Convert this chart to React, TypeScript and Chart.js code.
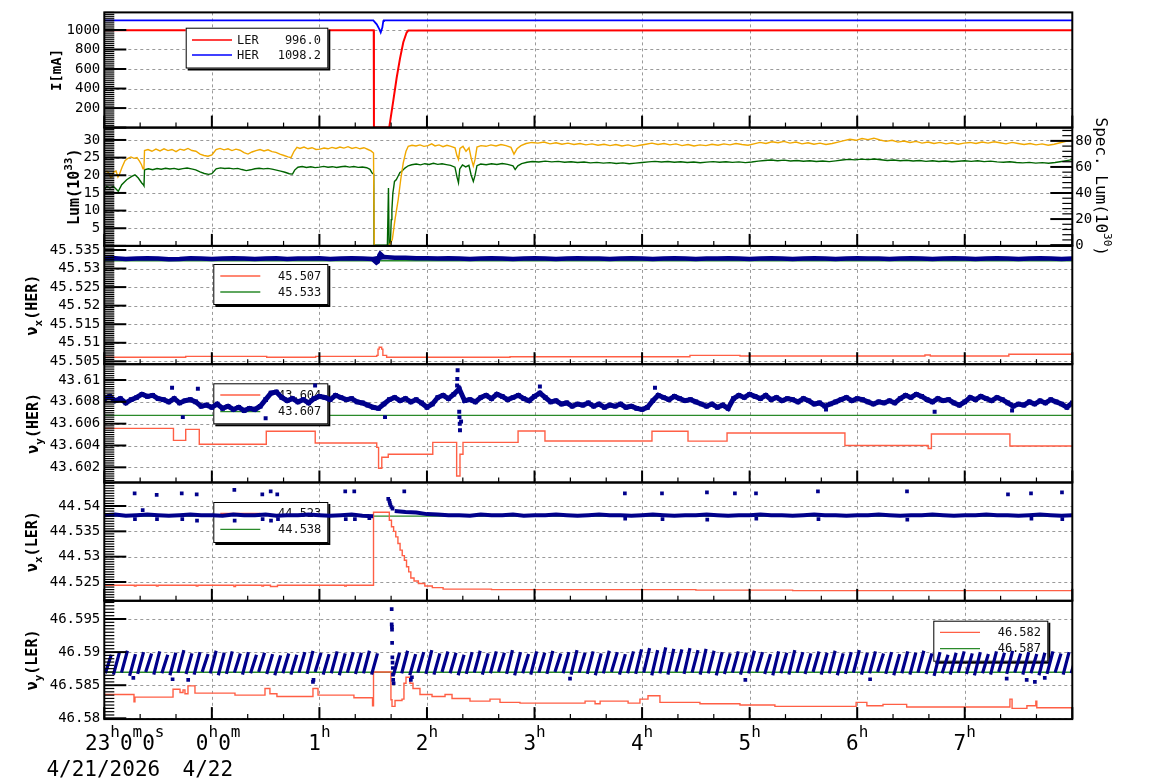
import React, { useEffect, useRef } from "react";
import { Chart, registerables } from "chart.js";

Chart.register(...registerables);

const W = 1154;
const H = 782;
const MONO = "'DejaVu Sans Mono', 'Liberation Mono', monospace";
const AREA_LEFT = 104.3;
const AREA_RIGHT = 1072.3;
const P_TOPS = [9.3, 127.6, 245.9, 364.2, 482.5, 600.8];
const PANEL_H = 118.3;

const RED = "#ff0000";
const BLUE = "#0000ff";
const ORANGE = "#f0a800";
const DKGREEN = "#006400";
const TOMATO = "#ff5f45";
const GREEN = "#2a8a2a";
const NAVY = "#00008b";

// ---------------- x axis (hours since 23:00, 4/21) ----------------
const X_MIN = 0;
const X_MAX = 9;
const X_LABELS = [
  [{ t: "23" }, { t: "h", k: "sup" }, { t: "0" }, { t: "m", k: "sup" }, { t: "0" }, { t: "s", k: "sup" }],
  [{ t: "0" }, { t: "h", k: "sup" }, { t: "0" }, { t: "m", k: "sup" }],
  [{ t: "1" }, { t: "h", k: "sup" }],
  [{ t: "2" }, { t: "h", k: "sup" }],
  [{ t: "3" }, { t: "h", k: "sup" }],
  [{ t: "4" }, { t: "h", k: "sup" }],
  [{ t: "5" }, { t: "h", k: "sup" }],
  [{ t: "6" }, { t: "h", k: "sup" }],
  [{ t: "7" }, { t: "h", k: "sup" }],
];
const DATE_LABELS = ["4/21/2026", "4/22"];

// ---------------- Panel 1: beam currents [mA] ----------------
const CUR_TICKS = [200, 400, 600, 800, 1000];
const CUR_LABELS = ["200", "400", "600", "800", "1000"];
const I_LER = [[0, 996], [2.505, 996], [2.507, 0], [2.646, 0], [2.65, 8], [2.687, 276], [2.718, 508], [2.749, 707], [2.78, 874], [2.811, 974], [2.826, 994], [9, 996]];
const I_HER = [[0, 1098], [2.501, 1098], [2.533, 1058], [2.557, 1009], [2.57, 974], [2.585, 1024], [2.594, 1091], [2.6, 1098], [9, 1098]];

// ---------------- Panel 2: luminosity ----------------
const LUM_TICKS = [5, 10, 15, 20, 25, 30];
const LUM_LABELS = ["5", "10", "15", "20", "25", "30"];
const SPEC_TICKS = [0, 20, 40, 60, 80];
const SPEC_LABELS = ["0", "20", "40", "60", "80"];
const LUM_T = [0, 0.025, 0.044, 0.058, 0.072, 0.086, 0.109, 0.127, 0.141, 0.165,
  0.192, 0.22, 0.248, 0.276, 0.304, 0.327, 0.346, 0.36, 0.369, 0.374,
  0.406, 0.443, 0.48, 0.518, 0.555, 0.592, 0.629, 0.667, 0.704, 0.741,
  0.778, 0.815, 0.852, 0.89, 0.927, 0.964, 1.001, 1.039, 1.076, 1.113,
  1.15, 1.187, 1.224, 1.262, 1.299, 1.336, 1.373, 1.41, 1.448, 1.485,
  1.522, 1.559, 1.596, 1.633, 1.671, 1.708, 1.736, 1.764, 1.791, 1.819,
  1.857, 1.894, 1.931, 1.968, 2.005, 2.043, 2.08, 2.117, 2.154, 2.191,
  2.228, 2.266, 2.303, 2.34, 2.377, 2.414, 2.452, 2.48, 2.503, 2.51,
  2.647, 2.678, 2.703, 2.733, 2.756, 2.78, 2.805, 2.826, 2.861, 2.898,
  2.935, 2.972, 3.01, 3.044, 3.075, 3.112, 3.149, 3.186, 3.223, 3.261,
  3.279, 3.293, 3.307, 3.335, 3.363, 3.391, 3.41, 3.431, 3.447, 3.465,
  3.502, 3.549, 3.595, 3.642, 3.688, 3.735, 3.781, 3.809, 3.837, 3.874,
  3.921, 3.976, 4.032, 4.088, 4.144, 4.2, 4.255, 4.311, 4.367, 4.423,
  4.478, 4.534, 4.59, 4.646, 4.702, 4.757, 4.813, 4.869, 4.925, 4.98,
  5.036, 5.092, 5.148, 5.204, 5.259, 5.315, 5.371, 5.427, 5.483, 5.538,
  5.594, 5.65, 5.706, 5.761, 5.817, 5.873, 5.929, 5.985, 6.04, 6.096,
  6.152, 6.208, 6.264, 6.319, 6.375, 6.431, 6.487, 6.543, 6.598, 6.654,
  6.71, 6.766, 6.822, 6.877, 6.933, 6.989, 7.045, 7.1, 7.156, 7.212,
  7.268, 7.324, 7.379, 7.435, 7.491, 7.547, 7.603, 7.659, 7.714, 7.77,
  7.826, 7.882, 7.938, 7.993, 8.049, 8.105, 8.161, 8.217, 8.273, 8.328,
  8.384, 8.44, 8.496, 8.552, 8.607, 8.663, 8.719, 8.775, 8.831, 8.886,
  8.942, 9.0];
const LUM_V = [20.9, 21.1, 20.6, 19.4, 19.6, 20.9, 21.2, 19.5, 20.3, 22.3,
  24.1, 24.8, 25.2, 24.8, 25.0, 24.0, 23.0, 21.8, 22.2, 27.0,
  27.3, 26.8, 27.4, 26.9, 27.5, 27.0, 27.3, 26.7, 27.4, 27.1,
  27.6, 27.0, 26.8, 26.0, 25.6, 25.4, 25.8, 27.3, 27.6, 27.2,
  27.5, 27.0, 27.4, 27.1, 26.4, 26.0, 26.6, 27.0, 27.3, 26.9,
  27.2, 26.7, 26.5, 26.0, 25.6, 25.2, 25.0, 26.8, 27.9, 27.6,
  28.0, 27.5, 27.8, 27.3, 27.4, 27.7, 27.5, 27.9, 27.6, 28.0,
  27.7, 28.1, 27.6, 27.9, 27.5, 27.8, 27.3, 26.9, 26.3, 0,
  0, 1.8, 7.5, 13.2, 18.8, 23.6, 26.8, 28.2, 28.5, 28.3,
  28.6, 28.2, 28.4, 28.9, 28.3, 28.6, 28.1, 28.5, 28.2, 27.8,
  25.5, 24.5, 27.6, 28.2, 26.8, 27.8, 25.0, 22.6, 24.5, 28.0,
  28.4, 28.2, 28.6, 28.3, 28.7, 28.4, 27.9, 26.0, 27.5, 28.4,
  29.0, 29.3, 29.1, 29.4, 28.9, 29.2, 28.8, 29.1, 28.7, 29.0,
  28.6, 28.9, 28.5, 28.8, 28.4, 28.7, 28.3, 28.6, 28.2, 28.5,
  28.8, 29.1, 28.7, 29.0, 28.6, 28.9, 28.4, 28.7, 28.3, 28.6,
  28.4, 28.8, 28.5, 28.9, 28.6, 29.0, 28.7, 28.5, 28.9, 29.3,
  29.0, 29.5, 29.2, 29.6, 29.1, 29.4, 28.9, 29.2, 28.8, 29.1,
  28.7, 29.0, 29.4, 29.8, 30.2, 29.9, 30.4, 30.1, 30.5, 30.0,
  29.6, 29.9, 29.4, 29.7, 29.3, 29.6, 29.1, 29.4, 29.0, 29.3,
  28.9, 29.2, 28.8, 29.1, 29.3, 29.0, 29.4, 29.1, 29.5, 29.2,
  28.9, 29.3, 29.0, 28.7, 29.0, 28.6, 28.9, 28.5, 28.8, 29.2,
  29.6, 29.9];
const SPEC = [
  [0, 42.6], [0.022, 45.1], [0.053, 43.9], [0.084, 45.1], [0.13, 41.3], [0.162, 46.4], [0.208, 50.2], [0.255, 52.7], [0.285, 54.0], [0.316, 51.5], [0.348, 47.7], [0.363, 46.4], [0.369, 45.5], [0.374, 57.8],
  [0.41, 58.6], [0.45, 57.9], [0.49, 58.8], [0.53, 58.2], [0.57, 59.0], [0.61, 58.4], [0.65, 58.9], [0.69, 58.1], [0.73, 58.7], [0.77, 59.2], [0.81, 58.5], [0.85, 57.8], [0.89, 56.2], [0.93, 55.0], [0.97, 54.3], [1.0, 54.8],
  [1.04, 58.6], [1.08, 59.3], [1.12, 58.8], [1.16, 59.1], [1.2, 58.5], [1.24, 58.9], [1.28, 58.0], [1.32, 57.2], [1.36, 57.8], [1.4, 58.6], [1.44, 59.0], [1.48, 58.5], [1.52, 58.9], [1.56, 58.3], [1.6, 57.6], [1.64, 56.8],
  [1.68, 55.9], [1.72, 54.8], [1.75, 54.5], [1.77, 57.6], [1.8, 59.8], [1.84, 60.3], [1.88, 59.6], [1.92, 60.1], [1.96, 59.5], [2.0, 59.9], [2.04, 60.4], [2.08, 59.8], [2.12, 60.2], [2.16, 59.6], [2.2, 60.1], [2.24, 60.5],
  [2.28, 59.9], [2.32, 60.3], [2.36, 59.7], [2.4, 60.0], [2.44, 59.4], [2.47, 58.2], [2.49, 55.3], [2.505, 54.5], [2.508, 0], [2.632, 0], [2.642, 43.9], [2.648, 1.0], [2.66, 1.8], [2.668, 19.6], [2.674, 27.3], [2.683, 40.0],
  [2.692, 45.1], [2.698, 48.9], [2.714, 50.2], [2.73, 52.7], [2.749, 55.8], [2.764, 56.5], [2.795, 59.1], [2.826, 60.9], [2.858, 61.7],
  [2.9, 62.3], [2.94, 61.6], [2.98, 62.5], [3.02, 61.9], [3.06, 62.8], [3.1, 62.0], [3.14, 62.4], [3.18, 61.8], [3.22, 61.2], [3.26, 59.8], [3.28, 52.0], [3.293, 47.9], [3.305, 58.5], [3.33, 61.5], [3.36, 60.0], [3.39, 61.2],
  [3.41, 54.0], [3.431, 48.9], [3.447, 53.5], [3.465, 61.0], [3.5, 62.2], [3.55, 61.7], [3.6, 62.4], [3.65, 61.9], [3.7, 62.6], [3.75, 62.0], [3.8, 60.8], [3.82, 58.0], [3.845, 60.9], [3.88, 62.5], [3.93, 63.6], [3.98, 64.2],
  [4.04, 63.8], [4.1, 64.5], [4.16, 63.9], [4.22, 64.3], [4.28, 63.6], [4.34, 64.0], [4.4, 63.4], [4.46, 63.8], [4.52, 63.1], [4.58, 63.5], [4.64, 62.9], [4.7, 63.3], [4.76, 62.7], [4.82, 63.1], [4.88, 62.5], [4.94, 62.9],
  [5.0, 63.4], [5.06, 63.9], [5.12, 64.3], [5.18, 63.8], [5.24, 64.2], [5.3, 63.6], [5.36, 64.0], [5.42, 63.4], [5.48, 63.8], [5.54, 63.2], [5.6, 63.7], [5.66, 64.1], [5.72, 63.6], [5.78, 64.0], [5.84, 63.5], [5.9, 63.9],
  [5.96, 63.3], [6.02, 63.8], [6.08, 64.5], [6.14, 64.9], [6.2, 65.3], [6.26, 64.8], [6.32, 65.2], [6.38, 64.6], [6.44, 65.0], [6.5, 64.4], [6.56, 64.8], [6.62, 64.2], [6.68, 64.6], [6.74, 64.1], [6.8, 64.7], [6.86, 65.3],
  [6.92, 65.8], [6.98, 65.4], [7.04, 66.0], [7.1, 65.6], [7.16, 66.1], [7.22, 65.5], [7.28, 65.0], [7.34, 65.3], [7.4, 64.8], [7.46, 65.1], [7.52, 64.6], [7.58, 64.9], [7.64, 64.3], [7.7, 64.7], [7.76, 64.2], [7.82, 64.6],
  [7.88, 64.0], [7.94, 64.4], [8.0, 64.8], [8.06, 64.3], [8.12, 64.7], [8.18, 64.1], [8.24, 64.5], [8.3, 63.9], [8.36, 63.6], [8.42, 64.0], [8.48, 63.4], [8.54, 63.1], [8.6, 63.5], [8.66, 62.9], [8.72, 63.3], [8.78, 62.8],
  [8.84, 63.4], [8.9, 64.2], [8.96, 65.0], [9.0, 65.6]];

// ---------------- Panel 3: nu_x (HER) ----------------
const NXH_TICKS = [45.505, 45.51, 45.515, 45.52, 45.525, 45.53, 45.535];
const NXH_LABELS = ["45.505", "45.51", "45.515", "45.52", "45.525", "45.53", "45.535"];
const NXH_DT = 0.1;
const NXH_MEAS = [45.5327, 45.5328, 45.5326, 45.5327, 45.5328, 45.5327, 45.5325, 45.5326, 45.5328, 45.5327,
  45.5326, 45.5327, 45.5328, 45.5327, 45.5326, 45.5327, 45.5328, 45.5326, 45.5327, 45.5327,
  45.5328, 45.5326, 45.5327, 45.5328, 45.5327, 45.5326, 45.5331,
  45.5329, 45.5329, 45.5328, 45.5328, 45.5327, 45.5328, 45.5327, 45.5326, 45.5327, 45.5328,
  45.5327, 45.5326, 45.5327, 45.5328, 45.5327, 45.5326, 45.5327, 45.5328, 45.5327, 45.5327,
  45.5326, 45.5327, 45.5328, 45.5327, 45.5326, 45.5327, 45.5328, 45.5327, 45.5326, 45.5327,
  45.5327, 45.5328, 45.5327, 45.5326, 45.5327, 45.5328, 45.5327, 45.5326, 45.5327, 45.5328,
  45.5327, 45.5326, 45.5327, 45.5328, 45.5327, 45.5327, 45.5326, 45.5327, 45.5328, 45.5327,
  45.5326, 45.5327, 45.5328, 45.5327, 45.5326, 45.5327, 45.5328, 45.5327, 45.5326, 45.5327,
  45.5328, 45.5327, 45.5326, 45.5327];
const NXH_EXCURSION = [[2.49, 45.5326], [2.51, 45.532], [2.53, 45.5315], [2.545, 45.5318], [2.555, 45.5336], [2.565, 45.5341], [2.58, 45.5337], [2.6, 45.5331]];
const NXH_SET = [[0, 45.5061], [0.757, 45.50635], [1.51, 45.5061], [1.965, 45.50635], [2.533, 45.5066], [2.545, 45.5083], [2.556, 45.5088], [2.579, 45.5083], [2.59, 45.5066], [2.625, 45.5061], [3.772, 45.50625], [5.445, 45.5066], [5.91, 45.50645], [7.63, 45.5067], [7.68, 45.50645], [8.41, 45.5069], [9, 45.5069]];
const NXH_REF = [[0, 45.5321], [9, 45.5321]];

// ---------------- Panel 4: nu_y (HER) ----------------
const NYH_TICKS = [43.602, 43.604, 43.606, 43.608, 43.61];
const NYH_LABELS = ["43.602", "43.604", "43.606", "43.608", "43.61"];
const NYH_DT = 0.05;
const NYH_MEAS = [43.6083, 43.6085, 43.6081, 43.6083, 43.6079, 43.6082, 43.6084, 43.6087, 43.6085, 43.6086,
  43.6083, 43.6082, 43.608, 43.6083, 43.6079, 43.6081, 43.6082, 43.608, 43.6076, 43.6077,
  43.6075, 43.6078, 43.6074, 43.6076, 43.6073, 43.6075, 43.6072, 43.6074, 43.6073, 43.6076,
  43.6082, 43.6088, 43.6089, 43.6084, 43.6081, 43.6083, 43.608, 43.6082, 43.6079, 43.6083,
  43.6085, 43.6084, 43.6082, 43.6086, 43.6084, 43.6082, 43.6083, 43.608, 43.6079, 43.6077,
  43.6075, 43.6074, 43.6078, 43.6082, 43.6084, 43.6081, 43.6083, 43.608, 43.6082, 43.6079,
  43.6075, 43.6078, 43.6084, 43.6086, 43.6083, 43.6087, 43.6092, 43.6081, 43.6082, 43.608,
  43.6084, 43.6086, 43.6083, 43.6087, 43.6085, 43.6082, 43.6084, 43.6086, 43.6083, 43.6081,
  43.6085, 43.6088, 43.6084, 43.608, 43.6081, 43.6078, 43.6079, 43.6076, 43.6078, 43.6077,
  43.6079, 43.6076, 43.6078, 43.6075, 43.6077, 43.6076, 43.6078, 43.6075, 43.6076, 43.6074,
  43.6073, 43.6075, 43.6081, 43.6086, 43.6084, 43.6082, 43.6085, 43.6083, 43.6081, 43.6082,
  43.608, 43.6078, 43.6076, 43.6078, 43.6075, 43.6077, 43.6074, 43.6083, 43.6086, 43.6084,
  43.6087, 43.6085, 43.6083, 43.6086, 43.6082, 43.6084, 43.6081, 43.6083, 43.6082, 43.608,
  43.6083, 43.6081, 43.6078, 43.6079, 43.6076, 43.6078, 43.608, 43.6082, 43.6084, 43.6081,
  43.6083, 43.6082, 43.608, 43.6078, 43.608, 43.6079, 43.6081, 43.6079, 43.6083, 43.6086,
  43.6084, 43.6087, 43.6085, 43.6082, 43.608, 43.6083, 43.6081, 43.6082, 43.6079, 43.6077,
  43.608, 43.6084, 43.6082, 43.6085, 43.6083, 43.6081, 43.6084, 43.6082, 43.6079, 43.6076,
  43.6078, 43.6077, 43.608, 43.6078, 43.6081, 43.6079, 43.6082, 43.608, 43.6078, 43.6075, 43.6079];
const NYH_OUTLIERS = [[0.63, 43.6093], [0.73, 43.6066], [0.87, 43.6092], [1.5, 43.6065], [1.96, 43.6095], [2.61, 43.6066],
  [3.28, 43.6095], [3.282, 43.6101], [3.285, 43.6109], [3.3, 43.6071], [3.302, 43.6066], [3.305, 43.606], [3.307, 43.6054], [3.317, 43.6062],
  [4.05, 43.6094], [5.12, 43.6093], [6.71, 43.6073], [7.72, 43.6071], [8.44, 43.6072]];
const NYH_SET = [[0, 43.60557], [0.643, 43.60447], [0.757, 43.60548], [0.883, 43.60411], [1.506, 43.6053], [1.961, 43.60423], [2.533, 43.60383], [2.55, 43.60191], [2.58, 43.60292], [2.64, 43.6032], [3.054, 43.60429], [3.276, 43.6012], [3.307, 43.6032], [3.335, 43.60429], [3.847, 43.60533], [4.097, 43.60441], [5.092, 43.6053], [5.427, 43.6044], [5.79, 43.60514], [6.886, 43.604], [7.66, 43.60372], [7.69, 43.60505], [8.42, 43.60395], [9, 43.60395]];
const NYH_REF = [[0, 43.60676], [9, 43.60676]];

// ---------------- Panel 5: nu_x (LER) ----------------
const NXL_TICKS = [44.525, 44.53, 44.535, 44.54];
const NXL_LABELS = ["44.525", "44.53", "44.535", "44.54"];
const NXL_DT = 0.1;
const NXL_MEAS = [44.5382, 44.5383, 44.5381, 44.5382, 44.5383, 44.5382, 44.5381, 44.5382, 44.5383, 44.5382,
  44.5382, 44.5381, 44.5383, 44.5382, 44.5382, 44.5383, 44.5381, 44.5382, 44.5382, 44.5383,
  44.5382, 44.5381, 44.5382, 44.5383, 44.5381, 44.538, null, 44.539, 44.5388, 44.5387, 44.5384,
  44.5383, 44.5382, 44.5382, 44.5381, 44.5383, 44.5382, 44.5382, 44.5383, 44.5381, 44.5382,
  44.5382, 44.5383, 44.5382, 44.5381, 44.5382, 44.5383, 44.5382, 44.5382, 44.5381, 44.5382,
  44.5383, 44.5382, 44.5381, 44.5382, 44.5382, 44.5383, 44.5382, 44.5381, 44.5382, 44.5382,
  44.5383, 44.5382, 44.5382, 44.5381, 44.5382, 44.5383, 44.5382, 44.5382, 44.5381, 44.5382,
  44.5382, 44.5383, 44.5382, 44.5381, 44.5382, 44.5382, 44.5383, 44.5382, 44.5381, 44.5382,
  44.5382, 44.5383, 44.5382, 44.5382, 44.5381, 44.5382, 44.5383, 44.5382, 44.5381, 44.5382];
const NXL_OUTLIERS = [[0.282, 44.5425], [0.487, 44.5422], [0.72, 44.5425], [0.859, 44.5423], [1.209, 44.5432], [1.469, 44.5423], [1.547, 44.5429], [1.608, 44.5423], [2.24, 44.5429], [2.324, 44.5429], [2.789, 44.5429],
  [4.84, 44.5425], [5.185, 44.5425], [5.603, 44.5427], [5.863, 44.5425], [6.059, 44.5425], [6.635, 44.5429], [7.463, 44.5429], [8.402, 44.5423], [8.616, 44.5425], [8.904, 44.5427],
  [0.285, 44.5374], [0.49, 44.5374], [0.725, 44.5374], [0.862, 44.5371], [1.212, 44.5371], [1.472, 44.5374], [1.55, 44.5371], [1.615, 44.5374], [2.245, 44.5374], [2.33, 44.5374], [2.464, 44.5376],
  [4.843, 44.5375], [5.19, 44.5374], [5.606, 44.5373], [6.062, 44.5375], [6.64, 44.5374], [7.466, 44.5373], [8.62, 44.5375], [8.907, 44.5374],
  [0.357, 44.5392], [2.64, 44.5414], [2.65, 44.541], [2.655, 44.5406], [2.66, 44.5402], [2.67, 44.5398], [2.68, 44.5395]];
const NXL_SET = [[0, 44.52435], [0.28, 44.5242], [0.295, 44.52435], [0.485, 44.5242], [0.5, 44.52435], [0.855, 44.5242], [0.87, 44.52435], [1.205, 44.5241], [1.22, 44.52435], [1.465, 44.5242], [1.48, 44.52435], [1.545, 44.5241], [1.61, 44.52435], [2.235, 44.5242], [2.25, 44.52435],
  [2.503, 44.53876], [2.65, 44.5372], [2.67, 44.5359], [2.69, 44.535], [2.71, 44.5339], [2.73, 44.5326], [2.75, 44.5313], [2.77, 44.5302], [2.79, 44.5293], [2.81, 44.528], [2.83, 44.527], [2.85, 44.5258], [2.88, 44.5252], [2.92, 44.5247], [2.98, 44.5242], [3.05, 44.5239], [3.15, 44.5236], [3.6, 44.5235], [5.5, 44.5234], [6.4, 44.5233], [9, 44.5233]];
const NXL_REF = [[0, 44.538], [9, 44.538]];

// ---------------- Panel 6: nu_y (LER) ----------------
const NYL_TICKS = [46.58, 46.585, 46.59, 46.595];
const NYL_LABELS = ["46.58", "46.585", "46.59", "46.595"];
const NYL_TOOTH_DT = 0.075;
const NYL_TOOTH_W = 0.055;
const NYL_A_START = 0.01;
const NYL_A_LOW = [46.5868, 46.5866, 46.5869, 46.5864, 46.5867, 46.587, 46.5866, 46.5868, 46.5865, 46.5869,
  46.5867, 46.5866, 46.587, 46.5868, 46.5865, 46.5867, 46.5869, 46.5866, 46.5868, 46.587,
  46.5867, 46.5865, 46.5868, 46.5866, 46.5869, 46.5867, 46.587, 46.5866, 46.5868, 46.5865,
  46.5869, 46.5867, 46.5868, 46.5866];
const NYL_A_HIGH = [46.5896, 46.5899, 46.5902, 46.5897, 46.59, 46.5898, 46.5901, 46.5896, 46.5899, 46.5903,
  46.5898, 46.59, 46.5897, 46.5902, 46.5899, 46.5901, 46.5898, 46.59, 46.5896, 46.5899,
  46.5897, 46.5895, 46.5898, 46.5896, 46.59, 46.5902, 46.5899, 46.5897, 46.5901, 46.5898,
  46.59, 46.5899, 46.5902, 46.5898];
const NYL_B_START = 2.69;
const NYL_B_LOW = [46.5866, 46.5868, 46.5865, 46.5869, 46.5867, 46.5866, 46.587, 46.5868, 46.5865, 46.5867,
  46.5869, 46.5866, 46.5868, 46.587, 46.5867, 46.5865, 46.5868, 46.5866, 46.5869, 46.5867,
  46.587, 46.5868, 46.5866, 46.5869, 46.5867, 46.5865, 46.5868, 46.587, 46.5866, 46.5868,
  46.5867, 46.5869, 46.5865, 46.5868, 46.5866, 46.587, 46.5867, 46.5869, 46.5866, 46.5868,
  46.5865, 46.5867, 46.5869, 46.5866, 46.5868, 46.587, 46.5867, 46.5865, 46.5868, 46.5866,
  46.5869, 46.5867, 46.587, 46.5866, 46.5868, 46.5865, 46.5867, 46.5869, 46.5866, 46.5868,
  46.587, 46.5867, 46.5865, 46.5868, 46.5866, 46.5869, 46.5867, 46.5864, 46.5868, 46.5866,
  46.5869, 46.5867, 46.5865, 46.5868, 46.5866, 46.587, 46.5867, 46.5869, 46.5866, 46.5868,
  46.5865, 46.5867, 46.5869, 46.5866, 46.5868];
const NYL_B_HIGH = [46.5899, 46.5902, 46.5897, 46.59, 46.5903, 46.5898, 46.5901, 46.5899, 46.5896, 46.59,
  46.5902, 46.5898, 46.5901, 46.5899, 46.5903, 46.59, 46.5897, 46.5901, 46.5899, 46.5902,
  46.5898, 46.59, 46.5903, 46.5899, 46.5901, 46.5898, 46.5902, 46.59, 46.5897, 46.5901,
  46.5904, 46.5906, 46.5903, 46.5907, 46.5905, 46.5904, 46.5906, 46.5903, 46.5905, 46.5902,
  46.59, 46.5898, 46.5901, 46.5899, 46.5902, 46.59, 46.5897, 46.5901, 46.5899, 46.5903,
  46.59, 46.5898, 46.5901, 46.5899, 46.5902, 46.5898, 46.59, 46.5903, 46.5899, 46.5901,
  46.5898, 46.59, 46.5897, 46.5901, 46.5899, 46.5902, 46.5898, 46.59, 46.5896, 46.5899,
  46.5901, 46.5898, 46.59, 46.5897, 46.5901, 46.5899, 46.5902, 46.5898, 46.59, 46.5897,
  46.5899, 46.5901, 46.5898, 46.59, 46.5899];
const NYL_OUTLIERS = [[0.27, 46.5861], [0.635, 46.5859], [0.78, 46.5858], [1.94, 46.5855], [1.945, 46.5858],
  [2.672, 46.5965], [2.672, 46.5942], [2.674, 46.5938], [2.675, 46.5934], [2.676, 46.5914], [2.678, 46.5892], [2.68, 46.5884], [2.682, 46.5876], [2.684, 46.5866], [2.686, 46.5858], [2.69, 46.5853],
  [2.85, 46.5858], [2.86, 46.5862], [4.33, 46.586], [5.96, 46.5858], [7.12, 46.5859], [8.39, 46.586], [8.576, 46.5858], [8.652, 46.5855], [8.744, 46.5861]];
const NYL_SET = [[0, 46.5836], [0.276, 46.5825], [0.285, 46.5832], [0.639, 46.5844], [0.704, 46.5839], [0.732, 46.5843], [0.75, 46.5837], [0.778, 46.5849], [0.843, 46.5838], [1.215, 46.5835], [1.494, 46.5845], [1.54, 46.5837], [1.605, 46.5833], [1.94, 46.5845], [1.987, 46.5835], [2.321, 46.5831], [2.494, 46.5819], [2.503, 46.587],
  [2.665, 46.5828], [2.675, 46.5818], [2.703, 46.5827], [2.768, 46.5829], [2.786, 46.5853], [2.805, 46.5862], [2.842, 46.5853], [2.87, 46.5845], [2.935, 46.5836], [3.047, 46.5833], [3.168, 46.5836], [3.233, 46.583], [3.4, 46.5826], [3.586, 46.5829], [3.679, 46.5824], [3.865, 46.5823],
  [4.47, 46.5826], [4.563, 46.5822], [4.61, 46.5826], [4.87, 46.5823], [4.98, 46.5829], [5.055, 46.5834], [5.166, 46.5824], [5.538, 46.5822], [5.91, 46.582], [6.235, 46.5818], [6.99, 46.5824], [7.09, 46.5819], [7.24, 46.5821], [7.46, 46.5817], [8.42, 46.5829], [8.44, 46.5815], [8.578, 46.5819], [8.661, 46.5826], [8.67, 46.5816], [9, 46.5816]];
const NYL_REF = [[0, 46.58695], [9, 46.58695]];

// ---------------- helpers ----------------
const fromPairs = (pairs: number[][]) => pairs.map(([x, y]) => ({ x, y }));
const zip = (ts: number[], vs: number[]) => ts.slice(0, Math.min(ts.length, vs.length)).map((t, i) => ({ x: t, y: vs[i] }));
const onGrid = (t0: number, dt: number, vals: (number | null)[]) => vals.map((v, i) => ({ x: t0 + i * dt, y: v }));
function teeth(t0: number, dt: number, w: number, lows: number[], highs: number[]) {
  const out: any[] = [];
  const n = Math.min(lows.length, highs.length);
  for (let i = 0; i < n; i++) {
    const t = t0 + i * dt;
    out.push({ x: t, y: lows[i] }, { x: t + w, y: highs[i] }, { x: t + w, y: null });
  }
  return out;
}

const lineDs = (data: any[], color: string, width: number, extra: any = {}) => ({
  data, borderColor: color, backgroundColor: color, borderWidth: width, pointRadius: 0, fill: false, tension: 0, spanGaps: false, ...extra,
});
const pointDs = (data: any[], color: string, r: number) => ({
  data, showLine: false, borderColor: color, backgroundColor: color, pointRadius: r, pointStyle: "rect",
  pointBackgroundColor: color, pointBorderColor: color, pointBorderWidth: 0,
});

type Seg = { t: string; k?: "sup" | "sub" };

function drawRich(ctx: CanvasRenderingContext2D, segs: Seg[], x: number, y: number, rot: number, size: number, weight: string, o: any) {
  ctx.save();
  ctx.translate(x, y);
  ctx.rotate(rot);
  ctx.textAlign = "left";
  ctx.textBaseline = "alphabetic";
  ctx.fillStyle = "#000";
  const fontOf = (s: Seg) => `${weight} ${s.k ? Math.round(size * o.small) : size}px ${MONO}`;
  const widths = segs.map((s) => { ctx.font = fontOf(s); return ctx.measureText(s.t).width; });
  const total = widths.reduce((a, b) => a + b, 0);
  let cx = o.center ? -total / 2 : 0;
  const base = o.center ? size * 0.36 : 0;
  segs.forEach((s, i) => {
    ctx.font = fontOf(s);
    const dy = s.k === "sup" ? -size * o.raise : s.k === "sub" ? size * o.drop : 0;
    ctx.fillText(s.t, cx, base + dy);
    cx += widths[i];
  });
  ctx.restore();
  return total;
}

function richWidth(ctx: CanvasRenderingContext2D, segs: Seg[], size: number, small: number) {
  let w = 0;
  segs.forEach((s) => { ctx.font = `${s.k ? Math.round(size * small) : size}px ${MONO}`; w += ctx.measureText(s.t).width; });
  return w;
}

function drawLegend(ctx: CanvasRenderingContext2D, L: any) {
  const [x0, y0, x1, y1] = L.box;
  ctx.save();
  ctx.setLineDash([]);
  ctx.fillStyle = "#000";
  ctx.fillRect(x0 + 2, y0 + 2, x1 - x0, y1 - y0);
  ctx.fillStyle = "#fff";
  ctx.fillRect(x0, y0, x1 - x0, y1 - y0);
  ctx.strokeStyle = "#000";
  ctx.lineWidth = 1;
  ctx.strokeRect(x0 + 0.5, y0 + 0.5, x1 - x0 - 1, y1 - y0 - 1);
  ctx.font = `12px ${MONO}`;
  ctx.textBaseline = "middle";
  L.items.forEach((it: any) => {
    ctx.strokeStyle = it.color;
    ctx.lineWidth = 1.3;
    ctx.beginPath();
    ctx.moveTo(L.line[0], it.y);
    ctx.lineTo(L.line[1], it.y);
    ctx.stroke();
    ctx.fillStyle = "#111";
    if (it.label) { ctx.textAlign = "left"; ctx.fillText(it.label, L.labelX, it.y + 0.5); }
    ctx.textAlign = "right";
    ctx.fillText(it.value, L.valueX, it.y + 0.5);
  });
  ctx.restore();
}

function drawAxisTicks(ctx: CanvasRenderingContext2D, scale: any, a: any, ax: any, side: "left" | "right") {
  const n0 = Math.ceil(ax.min / ax.minor - 1e-6);
  const n1 = Math.floor(ax.max / ax.minor + 1e-6);
  for (let k = n0; k <= n1; k++) {
    const v = k * ax.minor;
    const r = v / ax.step;
    const major = Math.abs(r - Math.round(r)) < 0.02;
    const py = scale.getPixelForValue(v);
    if (py < a.top - 0.5 || py > a.bottom + 0.5) continue;
    const len = major ? 22 : 10;
    ctx.lineWidth = major ? 2 : 1.2;
    ctx.beginPath();
    if (side === "left") { ctx.moveTo(a.left, py); ctx.lineTo(a.left + len, py); }
    else { ctx.moveTo(a.right, py); ctx.lineTo(a.right - len, py); }
    ctx.stroke();
  }
}

function makePlugin(cfg: any) {
  return {
    id: "panel_" + cfg.key,
    beforeDatasetsDraw(chart: any) {
      const { ctx, chartArea: a, scales } = chart;
      ctx.save();
      ctx.strokeStyle = "#9a9a9a";
      ctx.lineWidth = 1;
      ctx.setLineDash([3, 3]);
      ctx.beginPath();
      for (let h = 1; h < 9; h++) {
        const px = Math.round(scales.x.getPixelForValue(h)) + 0.5;
        ctx.moveTo(px, a.top); ctx.lineTo(px, a.bottom);
      }
      cfg.y.ticks.forEach((v: number) => {
        const py = Math.round(scales.y.getPixelForValue(v)) + 0.5;
        ctx.moveTo(a.left, py); ctx.lineTo(a.right, py);
      });
      ctx.stroke();
      ctx.restore();
    },
    beforeDatasetDraw(chart: any, args: any) {
      if (cfg.legendBefore != null && args.index === cfg.legendBefore) drawLegend(chart.ctx, cfg.legend);
    },
    afterDatasetsDraw(chart: any) {
      const { ctx, chartArea: a, scales } = chart;
      if (cfg.legendBefore == null) drawLegend(ctx, cfg.legend);
      ctx.save();
      ctx.setLineDash([]);
      ctx.strokeStyle = "#000";
      drawAxisTicks(ctx, scales.y, a, cfg.y, "left");
      if (cfg.y2) drawAxisTicks(ctx, scales.y2, a, cfg.y2, "right");
      for (let k = 0; k <= 27; k++) {
        const major = k % 3 === 0;
        const px = scales.x.getPixelForValue(k / 3);
        ctx.lineWidth = major ? 2 : 1.2;
        ctx.beginPath();
        ctx.moveTo(px, a.bottom);
        ctx.lineTo(px, a.bottom - (major ? 12 : 5));
        ctx.stroke();
      }
      ctx.lineWidth = 2;
      ctx.strokeRect(a.left, a.top, a.right - a.left, a.bottom - a.top);
      ctx.restore();
    },
    afterDraw(chart: any) {
      const { ctx, chartArea: a, scales } = chart;
      const cy = (a.top + a.bottom) / 2;
      const tt = cfg.title;
      drawRich(ctx, tt.segs, tt.x, cy, -Math.PI / 2, tt.size, "bold", { center: true, small: 0.7, raise: 0.5, drop: 0.3 });
      if (cfg.y2) {
        const t2 = cfg.y2.title;
        drawRich(ctx, t2.segs, t2.x, cy, Math.PI / 2, t2.size, "normal", { center: true, small: 0.7, raise: 0.5, drop: 0.3 });
      }
      if (cfg.xLabels) {
        X_LABELS.forEach((segs: any, i: number) => {
          const px = scales.x.getPixelForValue(i);
          const w = richWidth(ctx, segs, 21, 0.76);
          const start = i === 0 ? px - 19.3 : i === 1 ? px - 16 : px - w / 2;
          drawRich(ctx, segs, start, 750, 0, 21, "normal", { center: false, small: 0.76, raise: 0.6, drop: 0.3 });
        });
        ctx.save();
        ctx.fillStyle = "#000";
        ctx.font = `21px ${MONO}`;
        ctx.textAlign = "center";
        ctx.textBaseline = "alphabetic";
        ctx.fillText(DATE_LABELS[0], scales.x.getPixelForValue(0) - 1, 776);
        ctx.fillText(DATE_LABELS[1], scales.x.getPixelForValue(1) - 4, 776);
        ctx.restore();
      }
    },
  };
}

const redLegend = (x0: number, y0: number, vals: string[], ys: number[]) => ({
  box: [x0, y0, x0 + 115, y0 + 41], line: [x0 + 7, x0 + 47], labelX: 0, valueX: x0 + 108,
  items: [{ color: TOMATO, value: vals[0], y: ys[0] }, { color: GREEN, value: vals[1], y: ys[1] }],
});

const PANELS: any[] = [
  {
    key: "cur", top: P_TOPS[0],
    y: { min: 0, max: 1180, ticks: CUR_TICKS, labels: CUR_LABELS, minor: 20, step: 200 },
    title: { segs: [{ t: "I[mA]" }], x: 56, size: 14 },
    datasets: [lineDs(fromPairs(I_LER), RED, 2), lineDs(fromPairs(I_HER), BLUE, 1.8)],
    legendBefore: null,
    legend: {
      box: [185.7, 27.7, 328.3, 68.5], line: [192, 232], labelX: 237, valueX: 321,
      items: [{ color: RED, label: "LER", value: "996.0", y: 40 }, { color: BLUE, label: "HER", value: "1098.2", y: 55 }],
    },
  },
  {
    key: "lum", top: P_TOPS[1],
    y: { min: 0, max: 33.5, ticks: LUM_TICKS, labels: LUM_LABELS, minor: 0.5, step: 5 },
    y2: { min: -0.6, max: 90.2, ticks: SPEC_TICKS, labels: SPEC_LABELS, minor: 4, step: 20,
      title: { segs: [{ t: "Spec. Lum(10" }, { t: "30", k: "sup" }, { t: ")" }], x: 1102, size: 16 } },
    title: { segs: [{ t: "Lum(10" }, { t: "33", k: "sup" }, { t: ")" }], x: 74, size: 15 },
    datasets: [lineDs(zip(LUM_T, LUM_V), ORANGE, 1.4, { yAxisID: "y" }), lineDs(fromPairs(SPEC), DKGREEN, 1.4, { yAxisID: "y2" })],
    legendBefore: -1,
    legend: null,
  },
  {
    key: "nxh", top: P_TOPS[2],
    y: { min: 45.50423, max: 45.5361, ticks: NXH_TICKS, labels: NXH_LABELS, minor: 0.0005, step: 0.005 },
    title: { segs: [{ t: "ν" }, { t: "x", k: "sub" }, { t: "(HER)" }], x: 32, size: 15 },
    datasets: [
      lineDs(onGrid(0, NXH_DT, NXH_MEAS), NAVY, 4.5),
      lineDs(fromPairs(NXH_EXCURSION), NAVY, 4),
      lineDs(fromPairs(NXH_SET), TOMATO, 1.4, { stepped: true }),
      lineDs(fromPairs(NXH_REF), GREEN, 1.4),
    ],
    legendBefore: 1,
    legend: redLegend(213.3, 264, ["45.507", "45.533"], [276, 292]),
  },
  {
    key: "nyh", top: P_TOPS[3],
    y: { min: 43.60061, max: 43.61145, ticks: NYH_TICKS, labels: NYH_LABELS, minor: 0.0002, step: 0.002 },
    title: { segs: [{ t: "ν" }, { t: "y", k: "sub" }, { t: "(HER)" }], x: 33, size: 15 },
    datasets: [
      lineDs(onGrid(0, NYH_DT, NYH_MEAS), NAVY, 5, { pointRadius: 3.3, pointStyle: "rect", pointBackgroundColor: NAVY, pointBorderColor: NAVY, pointBorderWidth: 0 }),
      pointDs(fromPairs(NYH_OUTLIERS), NAVY, 2.8),
      lineDs(fromPairs(NYH_SET), TOMATO, 1.4, { stepped: true }),
      lineDs(fromPairs(NYH_REF), GREEN, 1.4),
    ],
    legendBefore: 1,
    legend: redLegend(213.3, 383.3, ["43.604", "43.607"], [395, 411.7]),
  },
  {
    key: "nxl", top: P_TOPS[4],
    y: { min: 44.52129, max: 44.54464, ticks: NXL_TICKS, labels: NXL_LABELS, minor: 0.0005, step: 0.005 },
    title: { segs: [{ t: "ν" }, { t: "x", k: "sub" }, { t: "(LER)" }], x: 32, size: 15 },
    datasets: [
      lineDs(onGrid(0, NXL_DT, NXL_MEAS), NAVY, 4),
      pointDs(fromPairs(NXL_OUTLIERS), NAVY, 2.6),
      lineDs(fromPairs(NXL_SET), TOMATO, 1.4, { stepped: true }),
      lineDs(fromPairs(NXL_REF), GREEN, 1.4),
    ],
    legendBefore: 1,
    legend: redLegend(213.3, 502, ["44.523", "44.538"], [513.3, 529.3]),
  },
  {
    key: "nyl", top: P_TOPS[5],
    y: { min: 46.57988, max: 46.59775, ticks: NYL_TICKS, labels: NYL_LABELS, minor: 0.0005, step: 0.005 },
    title: { segs: [{ t: "ν" }, { t: "y", k: "sub" }, { t: "(LER)" }], x: 32, size: 15 },
    datasets: [
      lineDs([
        ...teeth(NYL_A_START, NYL_TOOTH_DT, NYL_TOOTH_W, NYL_A_LOW, NYL_A_HIGH),
        ...teeth(NYL_B_START, NYL_TOOTH_DT, NYL_TOOTH_W, NYL_B_LOW, NYL_B_HIGH),
      ], NAVY, 3.2),
      pointDs(fromPairs(NYL_OUTLIERS), NAVY, 2.6),
      lineDs(fromPairs(NYL_SET), TOMATO, 1.4, { stepped: true }),
      lineDs(fromPairs(NYL_REF), GREEN, 1.4),
    ],
    legendBefore: 1,
    legend: {
      box: [933.3, 620.7, 1048.3, 661.7], line: [940, 980], labelX: 0, valueX: 1041,
      items: [{ color: TOMATO, value: "46.582", y: 632.3 }, { color: GREEN, value: "46.587", y: 648.7 }],
    },
    xLabels: true,
  },
];

function yAxis(ax: any, position: "left" | "right", width: number) {
  return {
    type: "linear",
    position,
    min: ax.min,
    max: ax.max,
    afterFit: (s: any) => { s.width = width; },
    afterBuildTicks: (s: any) => { s.ticks = ax.ticks.map((v: number) => ({ value: v })); },
    ticks: {
      autoSkip: false,
      padding: position === "left" ? 4 : 3,
      color: "#000",
      font: { family: MONO, size: 14 },
      callback: (_v: any, i: number) => ax.labels[i] ?? "",
    },
    grid: { display: false, drawTicks: false },
    border: { display: false },
  };
}

function buildConfig(cfg: any) {
  const scales: any = {
    x: { type: "linear", min: X_MIN, max: X_MAX, display: false },
    y: yAxis(cfg.y, "left", AREA_LEFT),
  };
  if (cfg.y2) scales.y2 = yAxis(cfg.y2, "right", W - AREA_RIGHT);
  return {
    type: "line",
    data: { datasets: cfg.datasets },
    options: {
      responsive: false,
      animation: false,
      events: [],
      layout: {
        padding: { left: 0, right: cfg.y2 ? 0 : W - AREA_RIGHT, top: cfg.top, bottom: H - cfg.top - PANEL_H },
      },
      plugins: { legend: { display: false }, tooltip: { enabled: false } },
      scales,
    },
    plugins: [makePlugin(cfg)],
  } as any;
}

function Panel({ cfg }: { cfg: any }) {
  const ref = useRef<HTMLCanvasElement>(null);
  useEffect(() => {
    const chart = new Chart(ref.current as HTMLCanvasElement, buildConfig(cfg));
    return () => chart.destroy();
  }, [cfg]);
  return (
    <canvas
      ref={ref}
      width={W}
      height={H}
      style={{ position: "absolute", left: 0, top: 0, width: W, height: H }}
    />
  );
}

export default function App() {
  return (
    <div style={{ position: "absolute", left: 0, top: 0, width: W, height: H, background: "#fff", overflow: "hidden" }}>
      {PANELS.map((p) => (
        <Panel key={p.key} cfg={p} />
      ))}
    </div>
  );
}
